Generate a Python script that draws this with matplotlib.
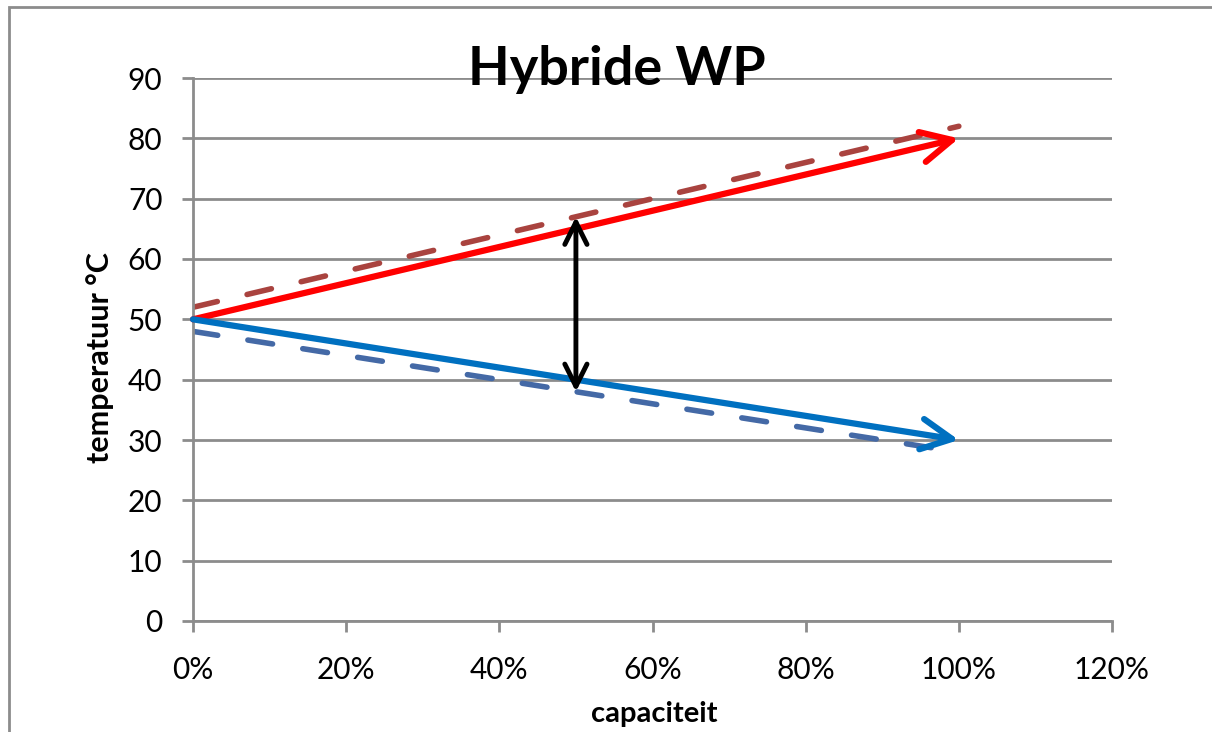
import matplotlib
matplotlib.use('Agg')
import matplotlib.pyplot as plt
from matplotlib.patches import Rectangle
from matplotlib.ticker import PercentFormatter

# data
capaciteit = [0.0, 1.0]
aanvoer = [50, 80]          # red solid
aanvoer_hoog = [52, 82]     # dashed brown
retour = [50, 30]           # blue solid
retour_laag = [48, 28]      # dashed blue
delta_x = 0.5
delta_y = [38, 67]

x_ticks = [0, 0.2, 0.4, 0.6, 0.8, 1.0, 1.2]
y_ticks = [0, 10, 20, 30, 40, 50, 60, 70, 80, 90]

plt.rcParams['font.family'] = ['Lato', 'DejaVu Sans']
grid_col = '#8c8c8c'

fig = plt.figure(figsize=(12.12, 7.32), dpi=100)
ax = fig.add_axes([193 / 1212, 1 - 621 / 732, 919 / 1212, 543 / 732])

# outer chart border
fig.patches.append(Rectangle((9 / 1212, -0.1), 1.2, 1 - 7 / 732 + 0.1,
                             transform=fig.transFigure, fill=False,
                             edgecolor=grid_col, lw=2))

ax.set_xlim(0, 1.2)
ax.set_ylim(0, 90)
ax.set_xticks(x_ticks)
ax.set_yticks(y_ticks)
ax.xaxis.set_major_formatter(PercentFormatter(1.0, decimals=0))
ax.grid(axis='y', color=grid_col, lw=2)
ax.set_axisbelow(True)
for s in ['top', 'right']:
    ax.spines[s].set_visible(False)
for s in ['left', 'bottom']:
    ax.spines[s].set_color(grid_col)
    ax.spines[s].set_linewidth(2)
ax.tick_params(axis='both', colors=grid_col, width=2, length=8, labelcolor='black',
               labelsize=21.5)
ax.tick_params(axis='y', pad=14)
ax.tick_params(axis='x', pad=17)

# dashed lines
ax.plot(capaciteit, aanvoer_hoog, color='#a9433f', lw=4, ls=(0, (4.5, 5.5)),
        dash_capstyle='round')
ax.plot(capaciteit, retour_laag, color='#4469a6', lw=4, ls=(0, (4.5, 5.5)),
        dash_capstyle='round')

# solid lines with open arrowheads
for ys, col in [(aanvoer, '#ff0000'), (retour, '#0070c0')]:
    ax.annotate('', xy=(capaciteit[1], ys[1]), xytext=(capaciteit[0], ys[0]),
                arrowprops=dict(arrowstyle='->', color=col, lw=4.5,
                                mutation_scale=55, shrinkA=0, shrinkB=0,
                                capstyle='round', joinstyle='round'))

# temperature difference arrow
ax.annotate('', xy=(delta_x, delta_y[1]), xytext=(delta_x, delta_y[0]),
            arrowprops=dict(arrowstyle='<->', color='black', lw=3.5,
                            mutation_scale=40, shrinkA=0, shrinkB=0))

fig.text(617 / 1212, 1 - 70 / 732, 'Hybride WP', ha='center', va='center',
         fontsize=39, fontweight='bold')
fig.text(100 / 1212, 1 - 358 / 732, 'temperatuur °C', ha='center', va='center',
         rotation=90, fontsize=22, fontweight='bold')
fig.text(654 / 1212, 1 - 714 / 732, 'capaciteit', ha='center', va='center',
         fontsize=21, fontweight='bold')

fig.savefig('out.png', dpi=100)
